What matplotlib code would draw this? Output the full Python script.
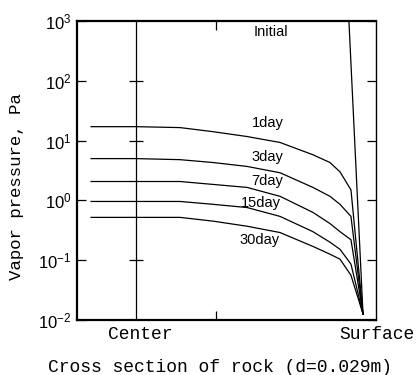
import matplotlib.pyplot as plt

# fonts: light sans for numbers/labels, mono for axis titles
plt.rcParams['mathtext.fontset'] = 'custom'
plt.rcParams['mathtext.rm'] = 'Liberation Sans'
plt.rcParams['font.family'] = 'Liberation Sans'

# distance from rock center, mm (surface at 14.5)
x_mm = [-2.87, 0.0, 2.81, 4.92, 7.09, 9.20, 11.30, 12.39, 13.03, 13.73, 14.50]

# vapor pressure, Pa
p_1day = [17.1, 17.1, 16.5, 14.1, 11.7, 9.3, 5.8, 4.3, 3.0, 1.5, 0.0126]
p_3day = [5.0, 5.0, 4.8, 4.3, 3.7, 2.9, 1.65, 1.17, 0.86, 0.54, 0.0126]
p_7day = [2.07, 2.07, 2.07, 1.85, 1.65, 1.17, 0.63, 0.41, 0.30, 0.22, 0.0126]
p_15day = [0.96, 0.96, 0.96, 0.86, 0.76, 0.54, 0.30, 0.20, 0.152, 0.086, 0.0126]
p_30day = [0.52, 0.52, 0.52, 0.45, 0.37, 0.29, 0.17, 0.126, 0.104, 0.056, 0.0126]

x_init = [13.6, 14.5]
p_init = [1000, 0.0126]

curve_names = ['1day', '3day', '7day', '15day', '30day', 'Initial']
# label anchor (x mm, Pa)
label_x = [8.4, 8.4, 8.35, 8.0, 7.9, 8.6]
label_p = [20, 5.4, 2.1, 0.92, 0.22, 650]

yticks = [1e-2, 1e-1, 1e0, 1e1, 1e2, 1e3]
ytick_labels = [r'$\mathrm{10^{-2}}$', r'$\mathrm{10^{-1}}$', r'$\mathrm{10^{0}}$',
                r'$\mathrm{10^{1}}$', r'$\mathrm{10^{2}}$', r'$\mathrm{10^{3}}$']
center_marks = [1e2, 1e1, 1e-1]

fig = plt.figure(figsize=(4.17, 3.75), dpi=100)
ax = fig.add_axes([77/417, 55/375, 299/417, 299/375])

for p in [p_1day, p_3day, p_7day, p_15day, p_30day]:
    ax.plot(x_mm, p, color='k', lw=0.9)
ax.plot(x_init, p_init, color='k', lw=0.9)

# center line with cross marks
ax.axvline(0, color='k', lw=0.9)
ax.plot([0]*len(center_marks), center_marks, ls='none', marker='_',
        markersize=10, color='k', mew=0.9)

for name, lx, lp in zip(curve_names, label_x, label_p):
    ax.text(lx, lp, name, fontsize=10.5, ha='center', va='center')

ax.set_yscale('log')
ax.set_ylim(1e-2, 1e3)
ax.set_xlim(-3.77, 15.33)
ax.set_yticks(yticks)
ax.set_yticklabels(ytick_labels, fontsize=12)
ax.minorticks_off()
ax.set_xticks([5.1])
ax.set_xticklabels([''])
ax.tick_params(direction='in', length=6.5, width=0.9, right=True, top=True, pad=4)
for s in ax.spines.values():
    s.set_linewidth(1.6)
ax.spines['right'].set_linewidth(1.0)

ax.text(0.3, -0.02, 'Center', transform=ax.get_xaxis_transform(), ha='center',
        va='top', family='Liberation Mono', fontsize=13)
ax.text(15.4, -0.02, 'Surface', transform=ax.get_xaxis_transform(), ha='center',
        va='top', family='Liberation Mono', fontsize=13)
fig.text(220/417, 1 - 368/375, 'Cross section of rock (d=0.029m)', ha='center',
         va='center', family='Liberation Mono', fontsize=13)
fig.text(17/417, 1 - 187/375, 'Vapor pressure, Pa', rotation=90, ha='center',
         va='center', family='Liberation Mono', fontsize=12.5)

plt.savefig('out.png', dpi=100)
